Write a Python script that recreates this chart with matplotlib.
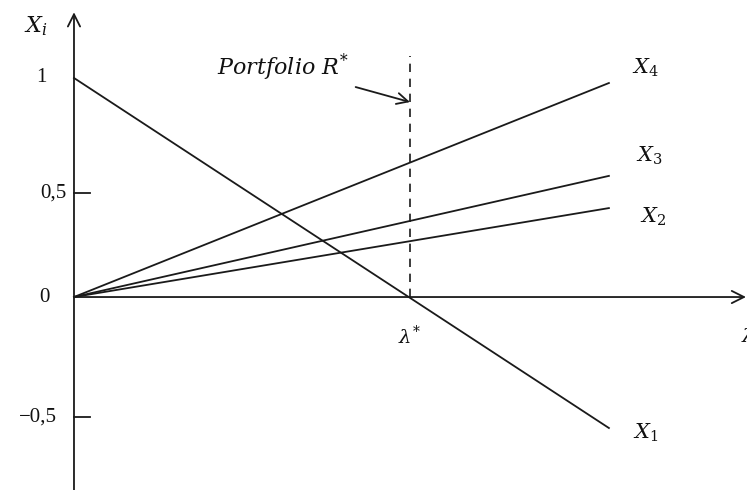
import numpy as np
import matplotlib.pyplot as plt

plt.rcParams['mathtext.fontset'] = 'dejavuserif'

# lambda axis, lambda* = 1
lam = [0.0, 1.592]
# weights of the four assets along lambda
x1 = [1.0, -0.598]
x2 = [0.0, 0.406]
x3 = [0.0, 0.553]
x4 = [0.0, 0.977]
series = {r'$X_1$': x1, r'$X_2$': x2, r'$X_3$': x3, r'$X_4$': x4}
label_offsets = {r'$X_1$': (0.11, -0.02), r'$X_2$': (0.13, -0.04),
                 r'$X_3$': (0.12, 0.09), r'$X_4$': (0.11, 0.07)}

ytick_pos = [1.0, 0.475, 0.0, -0.548]
ytick_labels = ['1', '0,5', '0', '\u22120,5']
ytick_text_x = [-0.098, -0.0625, -0.089, -0.107]
tick_marks = [0.475, -0.548]
lam_star = 1.0

fig = plt.figure(figsize=(7.47, 4.9), dpi=100)
ax = fig.add_axes([0, 0, 1, 1])
ax.set_xlim(-0.2202, 2.003)
ax.set_ylim(-0.881, 1.356)
ax.axis('off')

col = '#1a1a1a'
lw = 1.3

# axes with open arrow heads
ax.annotate('', xy=(0, 1.30), xytext=(0, -0.881),
            arrowprops=dict(arrowstyle='->', color=col, lw=lw,
                            mutation_scale=22, shrinkA=0, shrinkB=0))
ax.annotate('', xy=(2.0, 0), xytext=(0, 0),
            arrowprops=dict(arrowstyle='->', color=col, lw=lw,
                            mutation_scale=22, shrinkA=0, shrinkB=0))

# tick marks and labels
for pos in tick_marks:
    ax.plot([0, 0.048], [pos, pos], color=col, lw=lw)
for tx, pos, lab in zip(ytick_text_x, ytick_pos, ytick_labels):
    ax.text(tx, pos, lab, ha='center', va='center', fontsize=15,
            family='Liberation Serif', color='#111111')

# asset lines
for name, vals in series.items():
    ax.plot(lam, vals, color=col, lw=lw)
    dx, dy = label_offsets[name]
    ax.text(lam[1] + dx, vals[1] + dy, name, fontsize=15,
            ha='center', va='center', color='#111111')

# lambda* dashed line
ax.plot([lam_star, lam_star], [0, 1.1], color=col, lw=1.2, ls=(0, (5, 4)))
ax.text(lam_star, -0.18, r'$\lambda^{*}$', fontsize=14, ha='center',
        va='center', color='#111111')
ax.text(1.985, -0.18, r'$\lambda$', fontsize=14, ha='left', va='center',
        color='#111111')

ax.annotate(r'$Portfolio\ R^{*}$', xy=(lam_star, 0.89), xytext=(0.82, 1.05),
            fontsize=16, ha='right', va='center', color='#111111',
            arrowprops=dict(arrowstyle='->', color=col, lw=lw,
                            mutation_scale=20, shrinkA=4, shrinkB=0))

ax.text(-0.115, 1.235, r'$X_i$', fontsize=16, ha='center', va='center',
        color='#111111')

fig.savefig('out.png', dpi=100)
